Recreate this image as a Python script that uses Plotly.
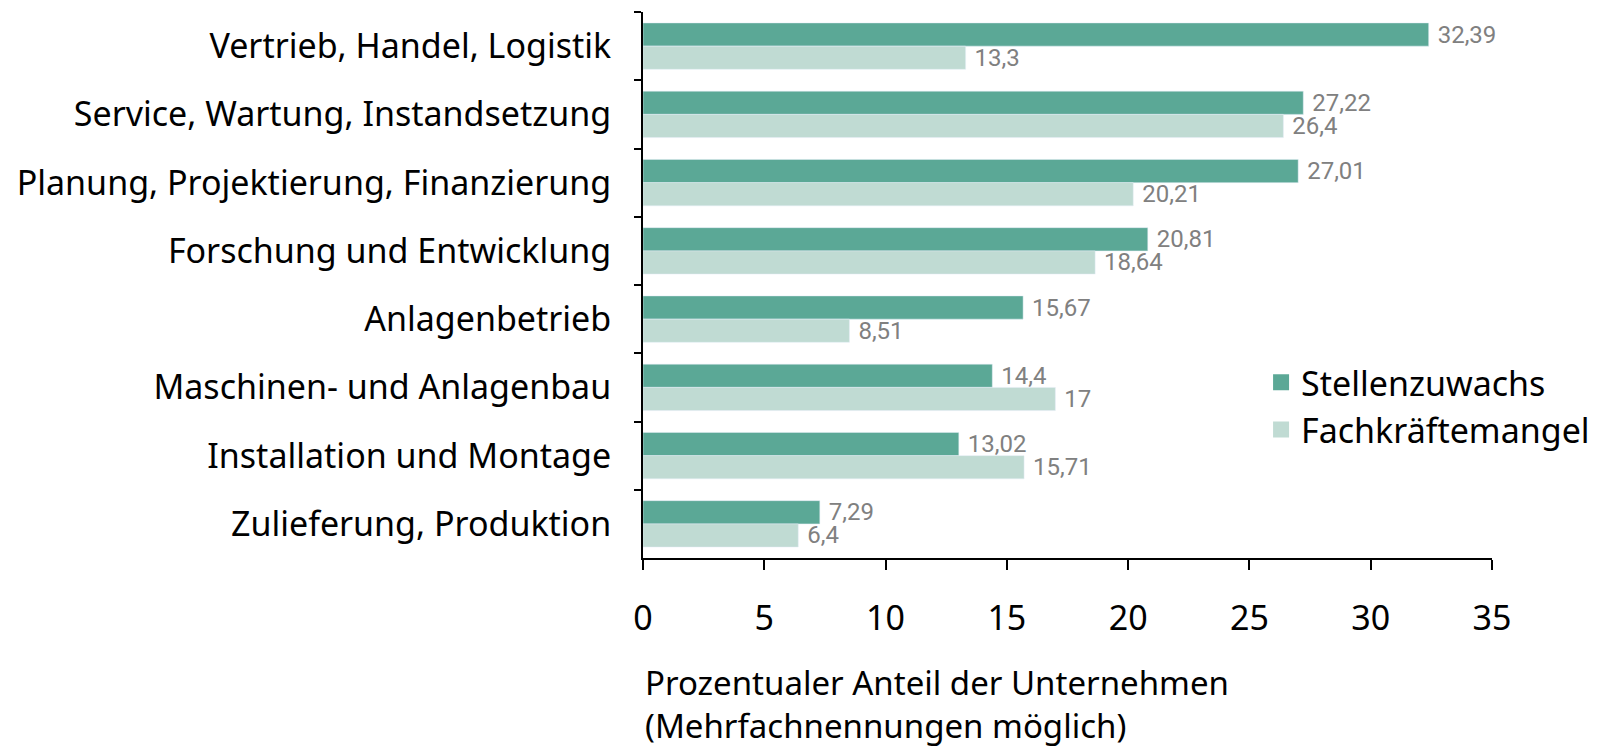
import plotly.graph_objects as go

categories = [
    "Vertrieb, Handel, Logistik",
    "Service, Wartung, Instandsetzung",
    "Planung, Projektierung, Finanzierung",
    "Forschung und Entwicklung",
    "Anlagenbetrieb",
    "Maschinen- und Anlagenbau",
    "Installation und Montage",
    "Zulieferung, Produktion",
]
stellenzuwachs = [32.39, 27.22, 27.01, 20.81, 15.67, 14.4, 13.02, 7.29]
fachkraeftemangel = [13.3, 26.4, 20.21, 18.64, 8.51, 17, 15.71, 6.4]
stellen_labels = ["32,39", "27,22", "27,01", "20,81", "15,67", "14,4", "13,02", "7,29"]
fach_labels = ["13,3", "26,4", "20,21", "18,64", "8,51", "17", "15,71", "6,4"]
x_ticks = [0, 5, 10, 15, 20, 25, 30, 35]

DARK = "#5ba896"
LIGHT = "#c0dbd3"
label_font = dict(family="Roboto, sans-serif", size=24, color="#808080")

fig = go.Figure()
fig.add_trace(go.Bar(
    name="Stellenzuwachs", y=categories, x=stellenzuwachs, orientation="h",
    marker=dict(color=DARK), text=stellen_labels, texttemplate="\u00a0%{text}",
    textposition="outside", textfont=label_font, constraintext="none",
    cliponaxis=False, showlegend=False,
))
fig.add_trace(go.Bar(
    name="Fachkräftemangel", y=categories, x=fachkraeftemangel, orientation="h",
    marker=dict(color=LIGHT), text=fach_labels, texttemplate="\u00a0%{text}",
    textposition="outside", textfont=label_font, constraintext="none",
    cliponaxis=False, showlegend=False,
))
# legend entries with square swatches
fig.add_trace(go.Scatter(name="Stellenzuwachs", x=[None], y=[None], mode="markers",
                         marker=dict(symbol="square", size=16, color=DARK)))
fig.add_trace(go.Scatter(name="Fachkräftemangel", x=[None], y=[None], mode="markers",
                         marker=dict(symbol="square", size=16, color=LIGHT)))

fig.update_layout(
    width=1606, height=750,
    margin=dict(l=635, r=122, t=4, b=200),
    paper_bgcolor="white", plot_bgcolor="white",
    barmode="group", bargap=0.32, bargroupgap=0,
    font=dict(family="Noto Sans, Open Sans, sans-serif", color="black"),
    showlegend=True,
    legend=dict(x=0.728, y=0.278, xanchor="left", yanchor="middle",
                font=dict(size=34), traceorder="normal", bgcolor="rgba(0,0,0,0)",
                itemwidth=30, tracegroupgap=0),
)
fig.update_xaxes(
    range=[0, 35], tickvals=x_ticks, ticktext=[str(t) for t in x_ticks],
    showgrid=False, zeroline=False,
    showline=True, linecolor="black", linewidth=2,
    ticks="outside", ticklen=10, tickwidth=2, tickcolor="black",
    tickfont=dict(size=34), ticklabelstandoff=19,
)
fig.update_yaxes(
    autorange="reversed", showgrid=False,
    showline=True, linecolor="black", linewidth=2,
    ticks="outside", ticklen=7, tickwidth=2, tickcolor="black",
    tickson="boundaries", tickfont=dict(size=34), ticklabelstandoff=23,
)
fig.add_annotation(
    text="Prozentualer Anteil der Unternehmen<br>(Mehrfachnennungen möglich)",
    xref="paper", yref="paper", x=0, y=-0.183, xanchor="left", yanchor="top",
    align="left", showarrow=False, font=dict(size=33, color="black"),
)

fig.write_html("out.html")
